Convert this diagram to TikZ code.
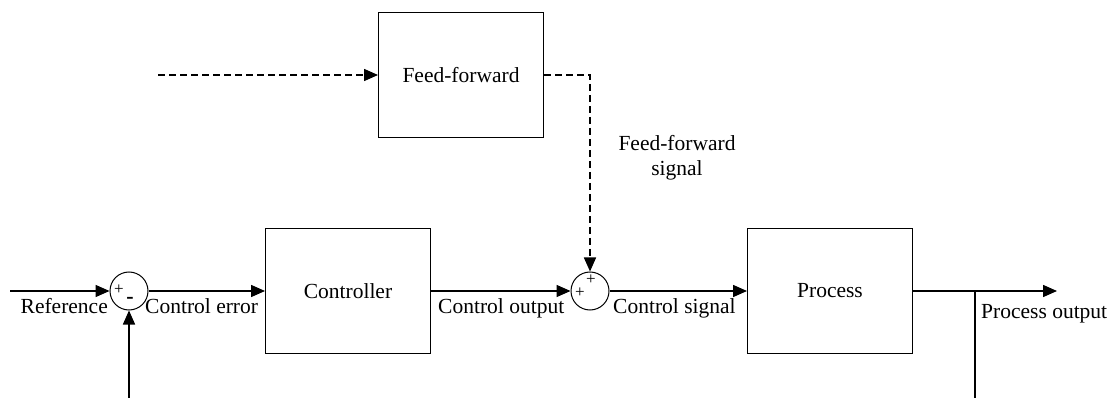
\documentclass[tikz,border=0pt]{standalone}
\usepackage{fontspec}
\setmainfont{Liberation Serif}
\usetikzlibrary{arrows.meta}

\begin{document}
\begin{tikzpicture}[x=1pt, y=-1pt,
    block/.style={draw, line width=1pt, minimum width=165pt, minimum height=125pt,
        font=\fontsize{21.5}{25}\selectfont},
    sumnode/.style={draw, circle, line width=1pt, minimum size=38pt, inner sep=0pt},
    sig/.style={line width=1.5pt, -{Triangle[length=14pt, width=12pt]}},
    tap/.style={line width=1.5pt},
    ffline/.style={dash pattern=on 7pt off 4pt},
    lbl/.style={inner sep=0pt, font=\fontsize{21.5}{25}\selectfont},
    sgn/.style={inner sep=0pt, font=\fontsize{17}{17}\selectfont}]
    \useasboundingbox (0,0) rectangle (1117,398);

    % blocks and summing points
    \node[block] (ctrl) at (348,291) {Controller};
    \node[block] (proc) at (830,291) {Process};
    \node[block] (ff) at (461,75) {Feed-forward};
    \node[sumnode] (sumA) at (129,291) {};
    \node[sumnode] (sumB) at (590,291) {};

    \node[sgn] at (119,290) {+};
    \node[sgn, font=\fontsize{22}{22}\bfseries] at (130,300) {-};
    \node[sgn] at (580,293) {+};
    \node[sgn] at (591,280) {+};

    % free ends
    \coordinate (refin) at (10,291);
    \coordinate (fbin) at (129,398);
    \coordinate (pout) at (1057,291);
    \coordinate (tapA) at (975,291);
    \coordinate (tapB) at (975,398);
    \coordinate (ffin) at (158,75);

    % signals
    \draw[sig] (refin) -- (sumA);
    \draw[sig] (fbin) -- (sumA);
    \draw[sig] (sumA) -- (ctrl);
    \draw[sig] (ctrl) -- (sumB);
    \draw[sig] (sumB) -- (proc);
    \draw[sig] (proc) -- (pout);
    \draw[tap] (tapA) -- (tapB);
    \draw[sig, ffline] (ffin) -- (ff);
    \draw[sig, ffline] (ff.east) -| (sumB);

    % labels
    \node[lbl, anchor=base east] at (108,313) {Reference};
    \node[lbl, anchor=base west] at (145,313) {Control error};
    \node[lbl, anchor=base west] at (438,313) {Control output};
    \node[lbl, anchor=base west] at (613,313) {Control signal};
    \node[lbl, anchor=base west] at (981,319) {Process output};
    \node[lbl, align=center, anchor=base] at (677,176) {Feed-forward\\signal};
\end{tikzpicture}
\end{document}
